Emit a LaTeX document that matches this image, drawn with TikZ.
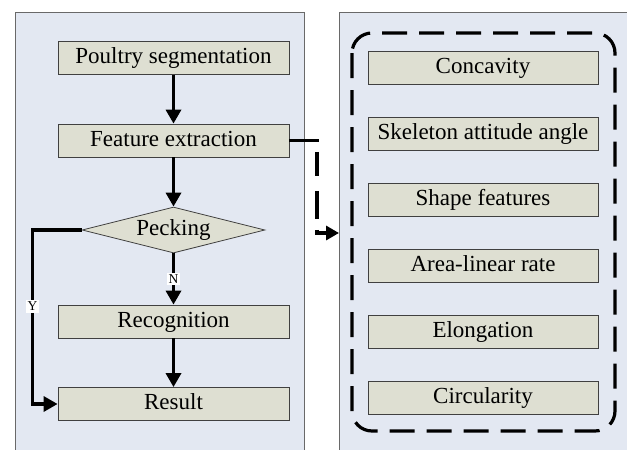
\documentclass[tikz,border=0pt]{standalone}
\usepackage{fontspec}
\setmainfont{Liberation Serif}
\usetikzlibrary{shapes.geometric,arrows.meta}

\definecolor{panelbg}{RGB}{227,232,242}
\definecolor{boxbg}{RGB}{222,223,210}
\definecolor{panelline}{RGB}{105,105,105}

\tikzset{
  panel/.style={draw=panelline, fill=panelbg, line width=1.2pt, inner sep=0pt, anchor=north west},
  stepbox/.style={draw=black!75, fill=boxbg, line width=0.8pt, inner sep=0pt,
    minimum width=231pt, minimum height=33pt, text height=16pt, text depth=5pt,
    font=\fontsize{23}{27}\selectfont},
  decision/.style={diamond, draw=black!75, fill=boxbg, line width=0.8pt, inner sep=0pt,
    shape aspect=4, minimum width=183pt, minimum height=46pt,
    font=\fontsize{23}{27}\selectfont},
  flow/.style={line width=3.3pt, -{Triangle[length=14pt,width=15pt]}},
  yn/.style={fill=white, inner sep=1.8pt, font=\fontsize{13.5}{15}\selectfont},
}

\begin{document}
\begin{tikzpicture}[x=1pt,y=-1pt]
  \useasboundingbox (0,0) rectangle (627,450);

  % two background panels
  \node[panel, minimum width=289pt, minimum height=445pt] (lpanel) at (15,12) {};
  \node[panel, minimum width=295pt, minimum height=445pt] (rpanel) at (339,12) {};

  % flow on the left
  \node[stepbox] (seg) at (173.5,58) {Poultry segmentation};
  \node[stepbox] (fe) at (173.5,140.5) {Feature extraction};
  \node[decision] (peck) at (173.5,230) {Pecking};
  \node[stepbox] (rec) at (173.5,321.5) {Recognition};
  \node[stepbox] (res) at (173.5,404) {Result};

  \draw[flow] (seg) -- (fe);
  \draw[flow] (fe) -- (peck);
  \draw[flow] (peck) -- node[yn] {N} (rec);
  \draw[flow] (rec) -- (res);
  \draw[flow] (peck.west) -- ++(-49,0) |- node[yn, pos=0.22] {Y} (res.west);

  % feature list on the right
  \draw[line width=3.2pt, dash pattern=on 25pt off 12pt, rounded corners=20pt]
    (352,33) rectangle (615,431);
  \foreach \t [count=\i] in {Concavity, Skeleton attitude angle, Shape features,
      Area-linear rate, Elongation, Circularity}
    \node[stepbox, minimum width=230pt] (f\i) at (483,{68+66*(\i-1)}) {\t};

  \coordinate (bend) at (317,233);
  \draw[line width=3.2pt, dash pattern=on 28pt off 11pt on 24pt off 15pt,
        -{Triangle[length=13pt,width=14pt]}]
    (fe.east) -| (bend) -- (bend -| rpanel.west);
\end{tikzpicture}
\end{document}
